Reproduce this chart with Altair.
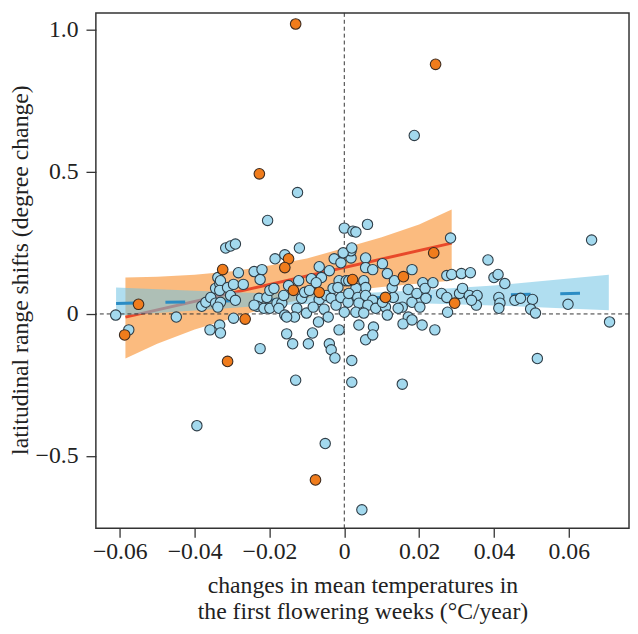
import altair as alt
import pandas as pd

# ---- data ----
blue_x = [-0.0125, 0.0187, -0.0611, -0.0576, -0.0449, -0.0381, -0.0370, -0.0357, -0.0344, -0.0338,
          -0.0344, -0.0333, -0.0317, -0.0359, -0.0333, -0.0331, -0.0205, -0.0304, -0.0291, -0.0120,
          -0.0185, -0.0159, 0.0000, 0.0023, -0.0283, -0.0241, -0.0220, -0.0225, -0.0331, -0.0333,
          -0.0312, -0.0296, -0.0270, -0.0304, -0.0291, -0.0331, -0.0338, -0.0228, -0.0207, -0.0233,
          -0.0215, -0.0199, -0.0188, -0.0199, -0.0180, -0.0167, -0.0175, -0.0162, -0.0149, -0.0159,
          -0.0127, -0.0133, -0.0101, -0.0114, -0.0106, -0.0093, -0.0088, -0.0067, -0.0061, -0.0075,
          -0.0067, -0.0083, -0.0054, -0.0069, -0.0043, -0.0048, -0.0035, -0.0030, -0.0027, -0.0009,
          -0.0014, 0.0005, -0.0017, -0.0040, -0.0022, -0.0009, 0.0010, 0.0000, 0.0018, 0.0018,
          -0.0003, -0.0154, -0.0138, -0.0085, -0.0096, -0.0225, -0.0040, -0.0035, -0.0014, -0.0025,
          -0.0154, -0.0122, -0.0241, 0.0020, -0.0130, 0.0020, -0.0394, -0.0051, 0.0047, 0.0057,
          0.0155, 0.0516, 0.0062, 0.0031, 0.0020, 0.0057, 0.0057, 0.0076, 0.0102, 0.0115,
          0.0181, 0.0284, 0.0274, 0.0287, 0.0313, 0.0337, 0.0012, 0.0052, 0.0057, 0.0031,
          0.0012, 0.0036, 0.0057, 0.0076, 0.0039, 0.0063, 0.0084, 0.0031, 0.0052, 0.0039,
          0.0078, 0.0076, 0.0110, 0.0102, 0.0131, 0.0128, 0.0134, 0.0115, 0.0155, 0.0144,
          0.0171, 0.0181, 0.0194, 0.0210, 0.0216, 0.0218, 0.0202, 0.0237, 0.0171, 0.0157,
          0.0208, 0.0181, 0.0242, 0.0260, 0.0274, 0.0276, 0.0308, 0.0316, 0.0334, 0.0355,
          0.0353, 0.0340, 0.0661, 0.0384, 0.0400, 0.0411, 0.0429, 0.0413, 0.0416, 0.0413,
          0.0456, 0.0471, 0.0503, 0.0498, 0.0511, 0.0598, 0.0709, -0.0296]
blue_y = [0.427, 0.628, -0.004, -0.056, -0.011, 0.027, 0.041, 0.058, 0.090, 0.128,
          0.038, 0.107, 0.232, -0.056, -0.039, -0.067, 0.329, 0.239, 0.246, 0.232,
          0.194, 0.208, 0.302, 0.291, 0.145, 0.149, 0.156, 0.121, 0.117, 0.083,
          0.093, 0.104, 0.104, 0.065, 0.048, 0.041, 0.024, 0.055, 0.058, 0.027,
          0.020, 0.083, 0.090, 0.020, 0.038, 0.038, 0.020, 0.065, 0.100, -0.004,
          0.020, -0.011, 0.003, 0.055, 0.076, 0.083, 0.124, 0.166, 0.128, 0.110,
          0.051, 0.024, 0.017, -0.028, -0.011, 0.065, 0.055, 0.090, 0.194, 0.180,
          0.117, 0.117, 0.093, 0.152, 0.031, 0.058, 0.041, 0.006, 0.197, 0.222,
          0.215, -0.070, -0.105, -0.067, -0.105, -0.122, -0.105, -0.126, -0.056, -0.155,
          -0.011, 0.117, 0.031, -0.164, -0.233, -0.240, -0.393, -0.456, -0.689, -0.091,
          -0.247, -0.157, 0.315, 0.288, 0.232, 0.197, 0.163, 0.156, 0.177, 0.142,
          0.156, 0.267, 0.135, 0.139, 0.142, 0.145, 0.117, 0.117, 0.093, 0.090,
          0.072, 0.058, 0.065, 0.048, 0.038, 0.031, 0.020, 0.006, 0.003, -0.039,
          -0.046, -0.074, 0.024, 0.041, 0.058, 0.093, 0.117, -0.004, 0.024, 0.020,
          0.086, 0.041, 0.072, 0.110, 0.090, 0.055, 0.024, 0.110, -0.011, -0.035,
          -0.039, -0.021, -0.056, 0.072, 0.058, 0.006, 0.072, 0.090, 0.065, 0.065,
          0.031, 0.048, 0.260, 0.190, 0.128, 0.139, 0.107, 0.058, 0.038, 0.020,
          0.048, 0.055, 0.051, 0.017, 0.003, 0.034, -0.028, -0.015]

orange_x = [-0.0130, -0.0227, 0.0244, -0.0312, -0.0077, -0.0587, -0.0550, -0.0325, -0.0149,
            -0.0159, -0.0136, -0.0265, -0.0067, 0.0022, 0.0158, 0.0239, 0.0110, 0.0295]
orange_y = [1.020, 0.493, 0.878, -0.167, -0.584, -0.074, 0.034, 0.156, 0.194,
            0.163, 0.083, -0.018, 0.076, 0.121, 0.131, 0.215, 0.058, 0.038]

orange_fit_x = [-0.0585, 0.0287]
orange_fit_y = [-0.011, 0.249]
orange_band_x = [-0.0585, -0.05, -0.04, -0.03, -0.02, -0.01, 0.0, 0.01, 0.02, 0.0287]
orange_band_lo = [-0.157, -0.105, -0.055, -0.015, 0.025, 0.055, 0.080, 0.095, 0.107, 0.117]
orange_band_hi = [0.128, 0.131, 0.138, 0.150, 0.170, 0.195, 0.232, 0.270, 0.315, 0.367]

blue_fit_x = [-0.0610, 0.0707]
blue_fit_y = [0.037, 0.075]
blue_band_x = [-0.0610, -0.04, -0.02, 0.0, 0.02, 0.04, 0.0707]
blue_band_lo = [-0.006, 0.012, 0.030, 0.040, 0.038, 0.030, 0.013]
blue_band_hi = [0.093, 0.082, 0.072, 0.070, 0.083, 0.100, 0.138]

x_ticks = [-0.06, -0.04, -0.02, 0, 0.02, 0.04, 0.06]
y_ticks = [-0.5, 0, 0.5, 1.0]
x_title = ["changes in mean temperatures in", "the first flowering weeks (°C/year)"]
y_title = "latitudinal range shifts (degree change)"

# ---- tables ----
blue_df = pd.DataFrame({"x": blue_x, "y": blue_y})
orange_df = pd.DataFrame({"x": orange_x, "y": orange_y})
ofit_df = pd.DataFrame({"x": orange_fit_x, "y": orange_fit_y})
bfit_df = pd.DataFrame({"x": blue_fit_x, "y": blue_fit_y})
oband_df = pd.DataFrame({"x": orange_band_x, "lo": orange_band_lo, "hi": orange_band_hi})
bband_df = pd.DataFrame({"x": blue_band_x, "lo": blue_band_lo, "hi": blue_band_hi})
zero_df = pd.DataFrame({"v": [0.0]})

W, H = 540, 522
FONT = "Times New Roman"
xs = alt.Scale(domain=[-0.0664, 0.0761], nice=False, zero=False)
ys = alt.Scale(domain=[-0.754, 1.059], nice=False, zero=False)

x_axis = alt.Axis(values=x_ticks, labelExpr="datum.value == 0 ? '0' : format(datum.value, '.2f')",
                  domain=False, grid=False, tickSize=9, tickWidth=1.3, tickColor="#333",
                  labelFont=FONT, labelFontSize=24, labelColor="#222", labelPadding=3,
                  titleFont=FONT, titleFontSize=24, titleFontWeight="normal", titleColor="#222",
                  titleX=W / 2, titleY=65, titleAlign="center", titleBaseline="alphabetic",
                  titleLineHeight=26)
y_axis = alt.Axis(values=y_ticks, labelExpr="datum.value == 0 ? '0' : format(datum.value, '.1f')",
                  domain=False, grid=False, tickSize=10, tickWidth=1.3, tickColor="#333",
                  labelFont=FONT, labelFontSize=24, labelColor="#222", labelPadding=8,
                  titleFont=FONT, titleFontSize=24, titleFontWeight="normal", titleColor="#222",
                  titleX=-69, titleY=260, titleAngle=-90, titleAlign="center",
                  titleBaseline="alphabetic")


def X(field):
    return alt.X(f"{field}:Q", scale=xs, axis=x_axis, title=x_title)


def Y(field):
    return alt.Y(f"{field}:Q", scale=ys, axis=y_axis, title=y_title)


oband = alt.Chart(oband_df).mark_area(color="#f98e2a", opacity=0.6).encode(
    x=X("x"), y=Y("lo"), y2="hi")
oline = alt.Chart(ofit_df).mark_line(color="#e8492a", strokeWidth=3).encode(x=X("x"), y=Y("y"))
bband = alt.Chart(bband_df).mark_area(color="#6fc3e3", opacity=0.55).encode(
    x=X("x"), y=Y("lo"), y2="hi")
bline = alt.Chart(bfit_df).mark_line(color="#2b8cc4", strokeWidth=3, strokeDash=[20, 30]).encode(
    x=X("x"), y=Y("y"))
vrule = alt.Chart(zero_df).mark_rule(color="#333", strokeWidth=1, strokeDash=[4, 3]).encode(x=X("v"))
hrule = alt.Chart(zero_df).mark_rule(color="#333", strokeWidth=1, strokeDash=[4, 3]).encode(y=Y("v"))
bpts = alt.Chart(blue_df).mark_circle(size=110, color="#a3d9ee", opacity=1,
                                      stroke="#2e3d47", strokeWidth=1.1).encode(x=X("x"), y=Y("y"))
opts = alt.Chart(orange_df).mark_circle(size=115, color="#f07c1c", opacity=1,
                                        stroke="#3d2b1f", strokeWidth=1.1).encode(x=X("x"), y=Y("y"))

chart = alt.layer(oband, oline, bband, bline, vrule, hrule, bpts, opts).properties(
    width=W, height=H,
    autosize=alt.AutoSizeParams(type="none"),
    padding={"left": 89, "top": 1, "right": 1, "bottom": 95},
    background="white",
).configure_view(stroke="#333", strokeWidth=1.5)

chart.save("out.html", embed_options={"renderer": "svg", "actions": False})
